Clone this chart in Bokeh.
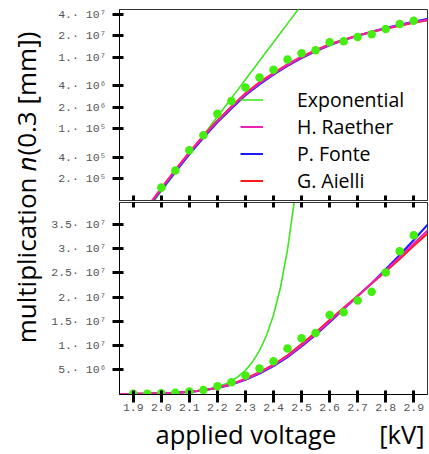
import math
from bokeh.plotting import figure
from bokeh.models import Range1d, FixedTicker, LinearAxis, Legend, LegendItem
from bokeh.layouts import row, column
from bokeh.embed import file_html
from bokeh.resources import INLINE
from bokeh.core.properties import value

# ---------------- data ----------------
volt = [1.90, 1.95, 2.00, 2.05, 2.10, 2.15, 2.20, 2.25, 2.30, 2.35, 2.40,
        2.45, 2.50, 2.55, 2.60, 2.65, 2.70, 2.75, 2.80, 2.85, 2.90]
mult = [0.04e6, 0.07e6, 0.15e6, 0.26e6, 0.50e6, 0.81e6, 1.62e6, 2.45e6, 3.80e6, 5.25e6, 6.75e6,
        9.4e6, 11.5e6, 12.6e6, 16.3e6, 16.9e6, 19.3e6, 21.1e6, 25.1e6, 29.5e6, 32.8e6]

fit_volt = [1.85, 1.90, 1.95, 2.00, 2.05, 2.10, 2.15, 2.20, 2.25, 2.30, 2.35, 2.40,
            2.45, 2.50, 2.55, 2.60, 2.65, 2.70, 2.75, 2.80, 2.85, 2.90, 2.95]
raether = [0.021e6, 0.041e6, 0.078e6, 0.145e6, 0.26e6, 0.46e6, 0.78e6, 1.28e6, 2.0e6, 3.05e6, 4.35e6, 5.9e6,
           7.8e6, 10.0e6, 12.4e6, 15.0e6, 17.6e6, 20.2e6, 22.9e6, 25.5e6, 28.3e6, 31.1e6, 33.8e6]
fonte = [0.020e6, 0.040e6, 0.076e6, 0.140e6, 0.25e6, 0.44e6, 0.75e6, 1.23e6, 1.93e6, 2.95e6, 4.2e6, 5.75e6,
         7.6e6, 9.8e6, 12.2e6, 14.8e6, 17.5e6, 20.2e6, 22.9e6, 25.8e6, 28.7e6, 31.8e6, 35.0e6]
aielli = [0.021e6, 0.042e6, 0.080e6, 0.148e6, 0.265e6, 0.47e6, 0.80e6, 1.31e6, 2.05e6, 3.15e6, 4.5e6, 6.05e6,
          8.0e6, 10.3e6, 12.7e6, 15.3e6, 17.8e6, 20.3e6, 22.8e6, 25.3e6, 27.9e6, 30.6e6, 33.2e6]

exp_volt = [1.85, 1.875, 1.90, 1.925, 1.95, 1.975, 2.00, 2.025, 2.05, 2.075, 2.10, 2.125, 2.15, 2.175,
            2.20, 2.225, 2.25, 2.275, 2.30, 2.325, 2.35, 2.375, 2.40, 2.425, 2.45, 2.475, 2.50]
exp_mult = [2.20e4, 2.97e4, 4.01e4, 5.41e4, 7.31e4, 9.87e4, 1.334e5, 1.80e5, 2.43e5, 3.29e5, 4.44e5, 5.99e5,
            8.09e5, 1.093e6, 1.476e6, 1.993e6, 2.69e6, 3.63e6, 4.91e6, 6.63e6, 8.95e6, 1.209e7, 1.633e7,
            2.205e7, 2.98e7, 4.02e7, 5.43e7]

x_ticks = [1.9, 2.0, 2.1, 2.2, 2.3, 2.4, 2.5, 2.6, 2.7, 2.8, 2.9]
x_tick_labels = ["1.9", "2.0", "2.1", "2.2", "2.3", "2.4", "2.5", "2.6", "2.7", "2.8", "2.9"]
log_ticks = [2e5, 4e5, 1e6, 2e6, 4e6, 1e7, 2e7, 4e7]
log_tick_labels = ["2.· 10⁵", "4.· 10⁵", "1.· 10⁵", "2.· 10⁶", "4.· 10⁶", "1.· 10⁷", "2.· 10⁷", "4.· 10⁷"]
lin_ticks = [5e6, 1e7, 1.5e7, 2e7, 2.5e7, 3e7, 3.5e7]
lin_tick_labels = ["5.· 10⁶", "1.· 10⁷", "1.5· 10⁷", "2.· 10⁷", "2.5· 10⁷", "3.· 10⁷", "3.5· 10⁷"]
legend_labels = ["Exponential", "H. Raether", "P. Fonte", "G. Aielli"]

# ---------------- style ----------------
S = 46
PW = 429 - S
FL = 119          # frame left (page px)
FR = 427          # frame right (page px)
C_PTS = "#44ee11"
C_EXP = "#3ee620"
C_RAE = "#ee22b0"
C_FON = "#1a1aff"
C_AIE = "#ff1a1a"
TICKFONT = "Liberation Mono"
TICKSIZE = "11.5px"
TICKCOLOR = "#555555"
TITLEFONT = "Open Sans"
TITLESIZE = "25.5px"


def style_common(p):
    p.xgrid.visible = False
    p.ygrid.visible = False
    p.outline_line_color = "#333333"
    p.outline_line_width = 1
    p.background_fill_color = "white"
    p.border_fill_color = "white"


def style_y(axis, ticks, labels):
    axis.ticker = FixedTicker(ticks=ticks, minor_ticks=[])
    axis.major_label_overrides = {t: l for t, l in zip(ticks, labels)}
    axis.major_tick_in = 4
    axis.major_tick_out = 7
    axis.major_tick_line_width = 3
    axis.major_tick_line_color = "black"
    axis.minor_tick_line_color = None
    axis.axis_line_color = "black"
    axis.major_label_text_font = TICKFONT
    axis.major_label_text_font_size = TICKSIZE
    axis.major_label_text_color = TICKCOLOR
    axis.major_label_standoff = 6


def tick_only(axis):
    # an edge with tick marks but no tick labels
    axis.ticker = FixedTicker(ticks=x_ticks, minor_ticks=[])
    axis.major_label_text_font_size = "0px"
    axis.major_label_text_color = None
    axis.major_label_text_alpha = 0
    axis.major_label_standoff = 0
    axis.major_tick_in = 5
    axis.major_tick_out = 0
    axis.major_tick_line_width = 3
    axis.major_tick_line_color = "black"
    axis.minor_tick_line_color = None
    axis.axis_line_color = "#333333"


x_range_top = Range1d(1.851, 2.949)
x_range_bot = Range1d(1.851, 2.949)

# ---------------- top (log) panel ----------------
top = figure(width=PW, height=201, y_axis_type="log", x_range=x_range_top,
             y_range=Range1d(9.9e4, 4.7e7), output_backend="svg", toolbar_location=None,
             min_border_left=FL - S, min_border_right=429 - FR, min_border_top=9, min_border_bottom=1)
style_common(top)
style_y(top.yaxis[0], log_ticks, log_tick_labels)
tick_only(top.xaxis[0])

r_exp = top.line(exp_volt, exp_mult, line_color=C_EXP, line_width=1.6)
r_fon = top.line(fit_volt, fonte, line_color=C_FON, line_width=2)
r_aie = top.line(fit_volt, aielli, line_color=C_AIE, line_width=2)
r_rae = top.line(fit_volt, raether, line_color=C_RAE, line_width=2)
top.scatter(volt, mult, size=8.5, fill_color=C_PTS, line_color=None)

legend = Legend(items=[LegendItem(label=legend_labels[0], renderers=[r_exp]),
                       LegendItem(label=legend_labels[1], renderers=[r_rae]),
                       LegendItem(label=legend_labels[2], renderers=[r_fon]),
                       LegendItem(label=legend_labels[3], renderers=[r_aie])],
                location=(121, 6), glyph_width=23, glyph_height=25, label_height=25,
                label_standoff=34, spacing=0, padding=0, margin=0,
                border_line_color=None, background_fill_alpha=0,
                label_text_font=TITLEFONT, label_text_font_size="19.5px",
                label_text_color="black")
top.add_layout(legend, "center")

# ---------------- bottom (linear) panel ----------------
bot = figure(width=PW, height=215, x_range=x_range_bot, y_range=Range1d(-1e5, 3.955e7),
             output_backend="svg", toolbar_location=None,
             min_border_left=FL - S, min_border_right=429 - FR, min_border_top=1, min_border_bottom=22)
style_common(bot)
style_y(bot.yaxis[0], lin_ticks, lin_tick_labels)
bx = bot.xaxis[0]
bx.ticker = FixedTicker(ticks=x_ticks, minor_ticks=[])
bx.major_label_overrides = {t: l for t, l in zip(x_ticks, x_tick_labels)}
bx.major_tick_in = 4
bx.major_tick_out = 8
bx.major_tick_line_width = 3
bx.major_tick_line_color = "black"
bx.minor_tick_line_color = None
bx.axis_line_color = "black"
bx.major_label_text_font = TICKFONT
bx.major_label_text_font_size = TICKSIZE
bx.major_label_text_color = TICKCOLOR
bx.major_label_standoff = 1

ta = LinearAxis()
tick_only(ta)
bot.add_layout(ta, "above")

bot.line(exp_volt, exp_mult, line_color=C_EXP, line_width=1.6)
bot.line(fit_volt, fonte, line_color=C_FON, line_width=2)
bot.line(fit_volt, aielli, line_color=C_AIE, line_width=2)
bot.line(fit_volt, raether, line_color=C_RAE, line_width=2)
bot.scatter(volt, mult, size=8.5, fill_color=C_PTS, line_color=None)

# ---------------- title strips ----------------
left = figure(width=S, height=454, x_range=Range1d(0, S), y_range=Range1d(0, 454),
              output_backend="svg", toolbar_location=None, min_border=0,
              x_axis_location=None, y_axis_location=None)
left.xgrid.visible = False
left.ygrid.visible = False
left.outline_line_color = None
TX = 25
left.text(x=[TX], y=[277], text=["multiplication"], angle=math.pi / 2, text_align="right",
          text_baseline="alphabetic", text_font=value(TITLEFONT), text_font_size="26px",
          text_color="black")
left.text(x=[TX], y=[283], text=["n"], angle=math.pi / 2, text_align="left",
          text_baseline="alphabetic", text_font=value(TITLEFONT), text_font_size="26px",
          text_font_style="italic", text_color="black")
left.text(x=[TX], y=[299], text=["(0.3 [mm])"], angle=math.pi / 2, text_align="left",
          text_baseline="alphabetic", text_font=value(TITLEFONT), text_font_size="26px",
          text_color="black")

# strip below: its frame lines up with the panels' frames (page x FL..FR)
SH = 454 - 201 - 215
bottom_strip = figure(width=PW, height=SH, x_range=Range1d(FL, FR), y_range=Range1d(0, SH),
                      output_backend="svg", toolbar_location=None,
                      min_border_left=FL - S, min_border_right=429 - FR,
                      min_border_top=0, min_border_bottom=0,
                      x_axis_location=None, y_axis_location=None)
bottom_strip.xgrid.visible = False
bottom_strip.ygrid.visible = False
bottom_strip.outline_line_color = None
bottom_strip.text(x=[155], y=[21], text=["applied voltage"], text_align="left",
                  text_baseline="alphabetic", text_font=value(TITLEFONT), text_font_size=TITLESIZE,
                  text_color="black")
bottom_strip.text(x=[424], y=[21], text=["[kV]"], text_align="right",
                  text_baseline="alphabetic", text_font=value(TITLEFONT), text_font_size=TITLESIZE,
                  text_color="black")

layout = row(left, column(top, bot, bottom_strip))
open("out.html", "w").write(file_html(layout, INLINE))
